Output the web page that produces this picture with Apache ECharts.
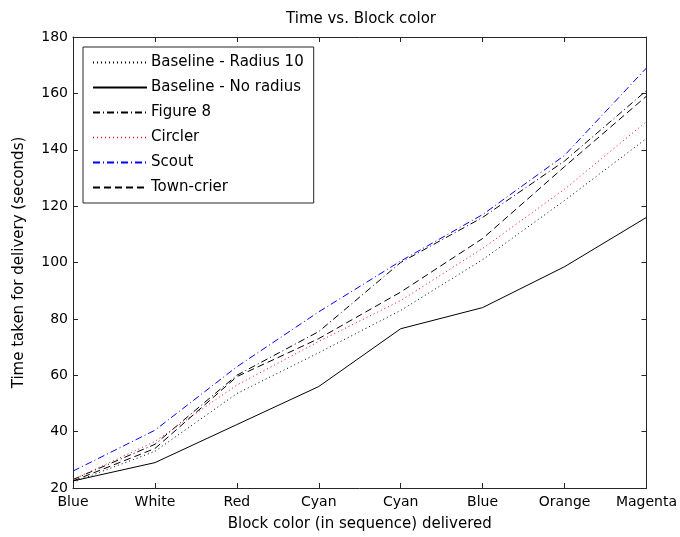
<!DOCTYPE html>
<html>
<head>
<meta charset="utf-8">
<script src="https://cdn.jsdelivr.net/npm/echarts@6/dist/echarts.min.js"></script>
<style>
  html, body { margin: 0; padding: 0; background: #fff; }
  #chart { width: 680px; height: 537px; }
</style>
</head>
<body>
<div id="chart"></div>
<script>
  // block colours in delivery order
  const categories = ['Blue', 'White', 'Red', 'Cyan', 'Cyan', 'Blue', 'Orange', 'Magenta']
  const yTicks = [20, 180, 20] // min, max, step

  // time taken (seconds)
  const baselineRadius10 = [22, 33, 53.5, 68, 83, 101, 122, 144]
  const baselineNoRadius = [22.5, 29, 42.5, 56, 76.5, 84, 98.5, 116]
  const figure8 = [23, 35.5, 60, 75.5, 100, 116, 136, 161]
  const circler = [23, 36.5, 56.5, 72, 86.5, 105, 126, 150]
  const scout = [26, 40.5, 63, 82.5, 100.5, 117, 138, 169]
  const townCrier = [22.5, 34, 59.5, 73, 89.5, 108.5, 134, 159]

  const font = 'DejaVu Sans, Verdana, sans-serif'
  const axisColor = '#262626'

  function line(name, data, color, type) {
      return {
          name: name,
          type: 'line',
          data: data,
          symbol: 'none',
          showSymbol: false,
          animation: false,
          itemStyle: {color: color},
          lineStyle: {color: color, width: 1, type: type}
      }
  }

  const boxAxisX = {
      type: 'category',
      data: categories,
      boundaryGap: false,
      axisLine: {show: true, lineStyle: {color: axisColor, width: 1}},
      axisTick: {show: true, inside: true, length: 5, alignWithLabel: true, lineStyle: {color: axisColor}},
      splitLine: {show: false}
  }
  const boxAxisY = {
      type: 'value',
      min: yTicks[0],
      max: yTicks[1],
      interval: yTicks[2],
      axisLine: {show: true, lineStyle: {color: axisColor, width: 1}},
      axisTick: {show: true, inside: true, length: 5, lineStyle: {color: axisColor}},
      splitLine: {show: false}
  }

  const options = {
      backgroundColor: '#fff',
      textStyle: {fontFamily: font},
      title: {
          text: 'Time vs. Block color',
          left: 356,
          top: 7,
          textAlign: 'center',
          textStyle: {fontFamily: font, fontSize: 15, fontWeight: 'normal', color: '#000'}
      },
      grid: {left: 73, right: 33, top: 37, bottom: 49},
      legend: {
          orient: 'vertical',
          left: 83,
          top: 47,
          itemWidth: 54,
          itemHeight: 14,
          itemGap: 10,
          padding: [8, 10, 8, 9],
          backgroundColor: '#fff',
          borderColor: axisColor,
          borderWidth: 1,
          borderRadius: 0,
          itemStyle: {opacity: 0},
          textStyle: {fontFamily: font, fontSize: 15, color: '#000', padding: [0, 0, 0, -1]},
          data: [
              'Baseline - Radius 10',
              'Baseline - No radius',
              'Figure 8',
              {name: 'Circler', lineStyle: {color: '#ff0000', width: 1.3}},
              'Scout',
              'Town-crier'
          ]
      },
      xAxis: [
          Object.assign({}, boxAxisX, {
              position: 'bottom',
              name: 'Block color (in sequence) delivered',
              nameLocation: 'middle',
              nameGap: 29,
              nameTextStyle: {fontFamily: font, fontSize: 15, color: '#000'},
              axisLabel: {fontFamily: font, fontSize: 14, color: '#000', margin: 7}
          }),
          Object.assign({}, boxAxisX, {position: 'top', axisLabel: {show: false}})
      ],
      yAxis: [
          Object.assign({}, boxAxisY, {
              position: 'left',
              name: 'Time taken for delivery (seconds)',
              nameLocation: 'middle',
              nameGap: 46,
              nameTextStyle: {fontFamily: font, fontSize: 15, color: '#000'},
              axisLabel: {fontFamily: font, fontSize: 14, color: '#000', margin: 5}
          }),
          Object.assign({}, boxAxisY, {position: 'right', axisLabel: {show: false}})
      ],
      series: [
          line('Baseline - Radius 10', baselineRadius10, '#000', [1, 3]),
          line('Baseline - No radius', baselineNoRadius, '#000', 'solid'),
          line('Figure 8', figure8, '#000', [7, 3, 1, 3]),
          line('Circler', circler, '#ff0000', [1, 3]),
          line('Scout', scout, '#0000ff', [7, 3, 1, 3]),
          line('Town-crier', townCrier, '#000', [7, 4])
      ]
  }

  const myChart = echarts.init(document.getElementById('chart'))
  myChart.setOption(options)
</script>
</body>
</html>
